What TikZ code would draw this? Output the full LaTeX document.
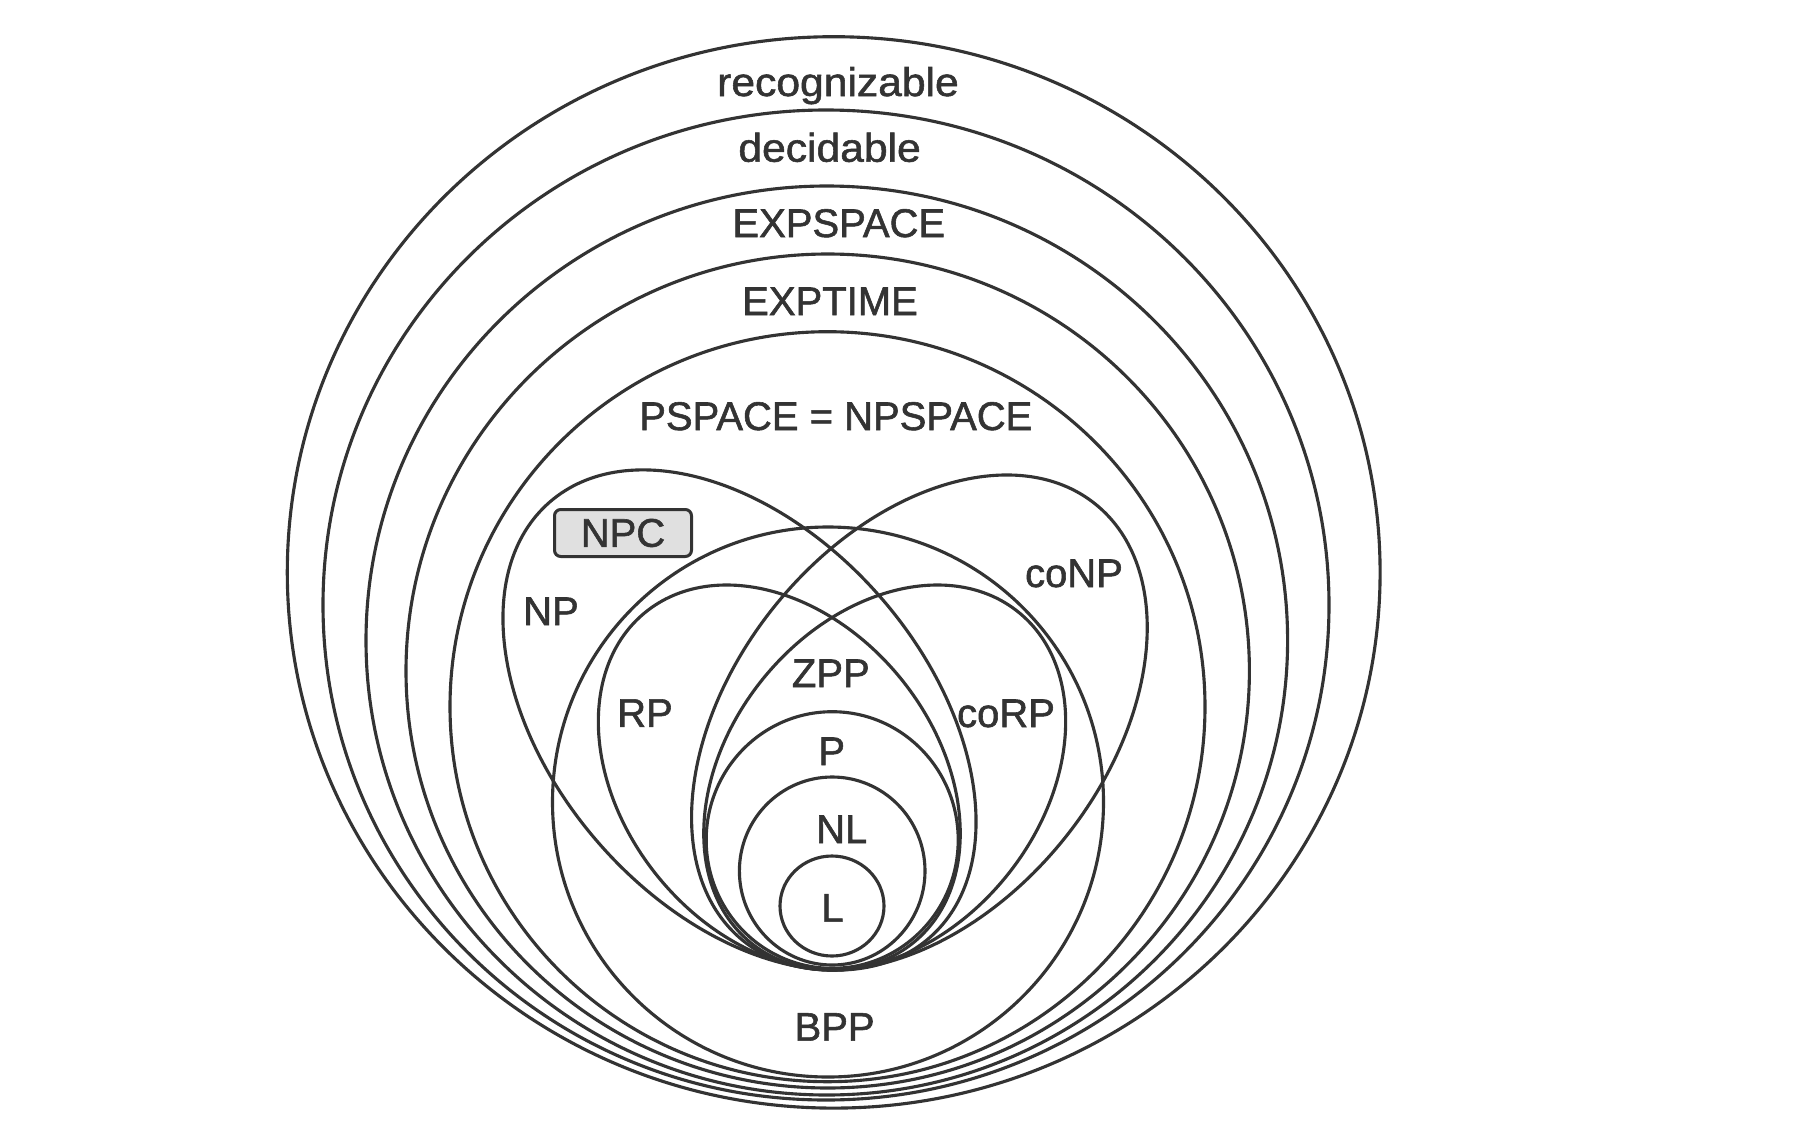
\documentclass[tikz,border=0pt]{standalone}
\usepackage{fontspec}
\setmainfont{Liberation Sans}
\newfontfamily\labfont{Liberation Sans}[FakeBold=1.4]
\newfontfamily\widefont{Liberation Sans}[FakeBold=1.4, FakeStretch=1.065]
\definecolor{ink}{HTML}{333333}
\definecolor{boxfill}{HTML}{E0E0E0}
\begin{document}
\begin{tikzpicture}[x=0.4pt,y=-0.4pt]
\tikzset{
  setline/.style={draw=ink, line width=1.25pt},
  lab/.style={text=ink, font=\labfont\fontsize{16}{19}\selectfont, anchor=base, inner sep=0pt},
  widelab/.style={lab, font=\widefont\fontsize{16}{19}\selectfont},
  npcbox/.style={draw=ink, line width=1.2pt, fill=boxfill, rounded corners=2.5pt,
    text=ink, font=\labfont\fontsize{16}{19}\selectfont, minimum width=54.8pt, minimum height=18.8pt, inner sep=0pt}
}
\useasboundingbox (0,0) rectangle (1814,1140);
\fill[white] (0,0) rectangle (1814,1140);
% outer classes
\draw[setline] (833.7,572.4) ellipse [x radius=546.4, y radius=535.7];
\draw[setline] (826,605) ellipse [x radius=503, y radius=495];
\draw[setline] (826.8,640.5) ellipse [x radius=460.8, y radius=454.5];
\draw[setline] (827.7,671) ellipse [x radius=421.7, y radius=417];
\draw[setline] (827.5,706.7) ellipse [x radius=377.5, y radius=375];
% BPP
\draw[setline] (828,802) ellipse [x radius=275.5, y radius=275];
% NP and coNP
\draw[setline, rotate around={-48.9:(739.5,720)}] (739.5,720) ellipse [x radius=289, y radius=187];
\draw[setline, rotate around={51.1:(919.4,722.5)}] (919.4,722.5) ellipse [x radius=280.5, y radius=185.7];
% RP and coRP
\draw[setline, rotate around={-51:(779.3,777.5)}] (779.3,777.5) ellipse [x radius=212.7, y radius=156.7];
\draw[setline, rotate around={51:(884.7,777.5)}] (884.7,777.5) ellipse [x radius=212.7, y radius=156.7];
% P, NL, L
\draw[setline] (832.2,840) ellipse [x radius=126, y radius=128.3];
\draw[setline] (832.2,871) ellipse [x radius=92.8, y radius=94];
\draw[setline] (832,906) ellipse [x radius=52, y radius=50];
% labels
\node[widelab] (recog) at (838,96) {recognizable};
\node[widelab] (decid) at (829.6,161.7) {decidable};
\node[lab] (expspace) at (838.8,237) {EXPSPACE};
\node[lab] (exptime) at (830,315) {EXPTIME};
\node[lab] (pspace) at (835.8,430) {PSPACE = NPSPACE};
\node[npcbox] (npc) at (623,533) {NPC};
\node[lab] (np) at (551,625) {NP};
\node[lab] (conp) at (1074,587) {coNP};
\node[lab] (rp) at (645,726.8) {RP};
\node[lab] (corp) at (1006,727) {coRP};
\node[lab] (zpp) at (830.8,687) {ZPP};
\node[lab] (p) at (831.7,765) {P};
\node[lab] (nl) at (841.7,843) {NL};
\node[lab] (l) at (832.5,921.7) {L};
\node[lab] (bpp) at (834.6,1040.7) {BPP};
\end{tikzpicture}
\end{document}
